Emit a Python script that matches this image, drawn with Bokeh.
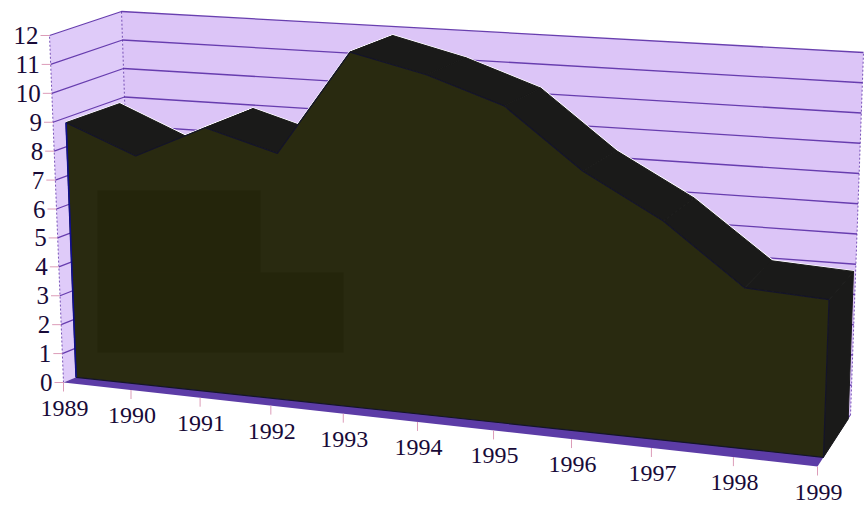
from bokeh.core.properties import value
from bokeh.embed import file_html
from bokeh.models import Range1d
from bokeh.plotting import figure
from bokeh.resources import INLINE

# Series and axis labels
years = [1989, 1990, 1991, 1992, 1993, 1994, 1995, 1996, 1997, 1998, 1999]
amounts = [8.83, 7.83, 8.95, 8.24, 11.75, 11.13, 10.25, 8.3, 6.9, 5.0, 4.85]
value_ticks = list(range(0, 13))

VMAX = 12.0
DEPTH_FRONT, DEPTH_BACK = 0.18, 0.93
PERSP = 1.13

# Screen corners of the chart box: (year end, depth, bottom/top)
BOX = {
    (0, 0, 0): (63, 382), (0, 0, 1): (49, 35),
    (0, 1, 0): (133, 353), (0, 1, 1): (121, 11),
    (1, 0, 0): (817, 466), (1, 0, 1): (831, 70),
    (1, 1, 0): (850, 415), (1, 1, 1): (863, 52),
}


def project(year, val, depth):
    """Map a year, a value and a depth to page pixels through the box."""
    t = (year - years[0]) / (years[-1] - years[0])
    u = t / (PERSP + (1 - PERSP) * t)
    w = val / VMAX
    px = py = 0.0
    for a, wa in ((0, 1 - u), (1, u)):
        for b, wb in ((0, 1 - depth), (1, depth)):
            for c, wc in ((0, 1 - w), (1, w)):
                cx, cy = BOX[(a, b, c)]
                px += wa * wb * wc * cx
                py += wa * wb * wc * cy
    return px, py


def path(points):
    return [q[0] for q in points], [q[1] for q in points]


p = figure(width=864, height=509, output_backend="svg", toolbar_location=None,
           x_range=Range1d(0, 864), y_range=Range1d(509, 0), min_border=0)
p.axis.visible = False
p.grid.visible = False
p.outline_line_color = None
p.background_fill_color = "white"
p.border_fill_color = "white"

y0, y1 = years[0], years[-1]
WALL = "#dcc5f7"
SIDE = "#dfcbf9"
GRID = "#5a2ea6"
TICK = "#dc9cb8"
TEXT = "#180a38"
FRONT = "#292a10"
TOP = "#1a1a19"
FLOOR = "#5c3ca6"

# Walls and floor
xs, ys = path([project(y0, 0, 0), project(y0, VMAX, 0), project(y0, VMAX, 1), project(y0, 0, 1)])
p.patch(xs, ys, fill_color=SIDE, line_color=None)
xs, ys = path([project(y0, 0, 1), project(y0, VMAX, 1), project(y1, VMAX, 1), project(y1, 0, 1)])
p.patch(xs, ys, fill_color=WALL, line_color=None)
xs, ys = path([project(y0, 0, 0), project(y1, 0, 0), project(y1, 0, 1), project(y0, 0, 1)])
p.patch(xs, ys, fill_color=FLOOR, line_color=None)

# Grid lines across both walls
for v in value_ticks[1:]:
    xs, ys = path([project(y0, v, 0), project(y0, v, 1), project(y1, v, 1)])
    p.line(xs, ys, line_color=GRID, line_width=1.3, line_alpha=0.9)

# Dotted wall edges
for yr, d in ((y0, 0), (y0, 1), (y1, 1)):
    xs, ys = path([project(yr, 0, d), project(yr, VMAX, d)])
    p.line(xs, ys, line_color=GRID, line_width=1, line_dash="2 2", line_alpha=0.8)

# Top surface, one quad per year span, over a bright rim
back_top = [project(y, a, DEPTH_BACK) for y, a in zip(years, amounts)]
front_top = [project(y, a, DEPTH_FRONT) for y, a in zip(years, amounts)]
top_xs, top_ys = [], []
for i in range(len(years) - 1):
    qx, qy = path([front_top[i], front_top[i + 1], back_top[i + 1], back_top[i]])
    top_xs.append(qx)
    top_ys.append(qy)
p.patches(top_xs, top_ys, fill_color=None, line_color="white", line_width=2.5)
p.patches(top_xs, top_ys, fill_color=TOP, line_color=TOP, line_width=1)

# Right end of the solid
xs, ys = path([project(y1, 0, DEPTH_FRONT), project(y1, amounts[-1], DEPTH_FRONT),
               project(y1, amounts[-1], DEPTH_BACK), project(y1, 0, DEPTH_BACK)])
p.patch(xs, ys, fill_color=TOP, line_color=TOP, line_width=1)

# Front face
front_base = [project(y0, 0, DEPTH_FRONT)] + front_top + [project(y1, 0, DEPTH_FRONT)]
xs, ys = path(front_base)
p.patch(xs, ys, fill_color=FRONT, line_color="#14142a", line_width=1.2)

# Blue left edge of the front face
xs, ys = path([project(y0, 0, DEPTH_FRONT), project(y0, amounts[0], DEPTH_FRONT)])
p.line(xs, ys, line_color="#12108c", line_width=1.6)

# Darker printed blotches on the front face
p.quad(left=[97, 97], right=[260, 343], top=[190, 272], bottom=[272, 352],
       fill_color="#24250b", line_color=None)

# Value axis ticks and labels
for v in value_ticks:
    x, y = project(y0, v, 0)
    p.line([x - 9, x], [y, y], line_color=TICK, line_width=1)
p.text([project(y0, v, 0)[0] - 11 for v in value_ticks],
       [project(y0, v, 0)[1] for v in value_ticks],
       text=[str(v) for v in value_ticks], text_font=value("Liberation Serif"),
       text_font_size="25px", text_color=TEXT, text_align="right", text_baseline="middle")

# Year axis ticks and labels
for yr in years:
    x, y = project(yr, 0, 0)
    p.line([x, x], [y, y + 9], line_color=TICK, line_width=1)
p.text([project(yr, 0, 0)[0] + 1 for yr in years],
       [project(yr, 0, 0)[1] + 25.5 for yr in years],
       text=[str(yr) for yr in years], text_font=value("Liberation Serif"),
       text_font_size="24px", text_color=TEXT, text_align="center", text_baseline="middle")

open("out.html", "w").write(file_html(p, INLINE))
